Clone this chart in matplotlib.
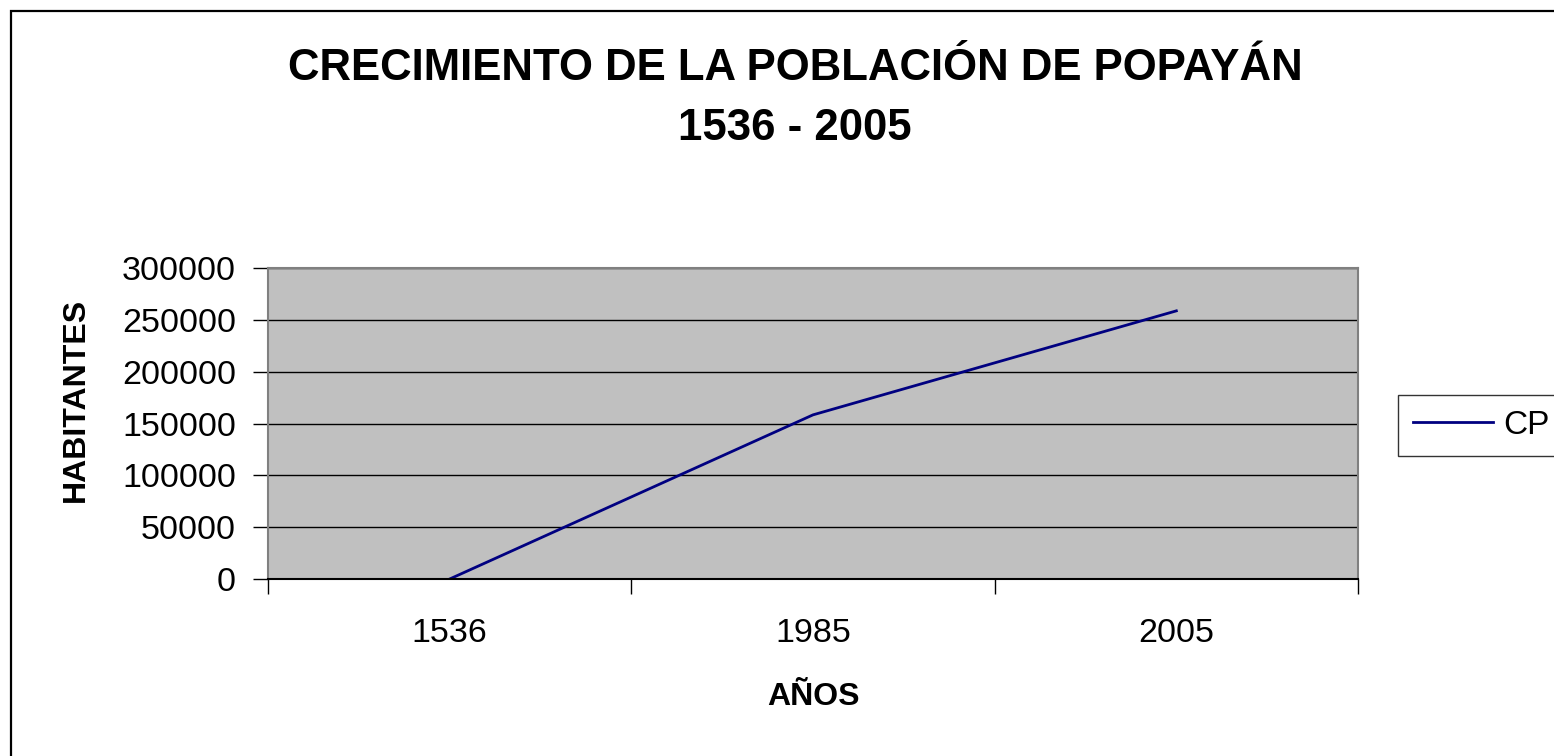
import numpy as np
import matplotlib
matplotlib.use("Agg")
import matplotlib.pyplot as plt
from matplotlib.patches import Rectangle

plt.rcParams["font.family"] = ["Liberation Sans", "DejaVu Sans"]

# ---- data ----
years = ["1536", "1985", "2005"]
habitantes = [0, 158336, 258653]
y_ticks = [0, 50000, 100000, 150000, 200000, 250000, 300000]

W, H = 1554, 756
fig = plt.figure(figsize=(W / 100, H / 100), dpi=100)

# outer chart border (right/bottom fall outside the picture)
fig.patches.append(Rectangle((11 / W, -0.1), 1.2, 1 - 11 / H + 0.1,
                             transform=fig.transFigure, fill=False,
                             edgecolor="black", linewidth=1.6))

ax = fig.add_axes([268 / W, 1 - 579 / H, 1090 / W, 311 / H])
ax.set_facecolor("#C0C0C0")

x = np.arange(len(years))
ax.plot(x, habitantes, color="#000080", linewidth=2.0, label="CP")

ax.set_xlim(-0.5, len(years) - 0.5)
ax.set_ylim(0, 300000)
ax.set_yticks(y_ticks)
ax.set_yticklabels([str(v) for v in y_ticks])
ax.yaxis.grid(True, color="black", linewidth=1.0)
ax.set_axisbelow(True)

# category ticks between categories, labels centred under them
ax.set_xticks(np.arange(-0.5, len(years), 1.0))
ax.set_xticklabels([])
ax.set_xticks(x, minor=True)
ax.set_xticklabels(years, minor=True)
ax.tick_params(axis="x", which="major", length=11, width=1, color="black", direction="out")
ax.tick_params(axis="x", which="minor", length=0, pad=28, labelsize=24.5)
ax.tick_params(axis="y", length=11, width=1, color="black", direction="out", pad=12, labelsize=24.5)

for side in ["top", "right", "left"]:
    ax.spines[side].set_color("#808080")
    ax.spines[side].set_linewidth(1.5)
ax.spines["bottom"].set_color("black")
ax.spines["bottom"].set_linewidth(1.5)

fig.text(813 / W, 1 - 697 / H, "AÑOS", ha="center", va="center",
         fontsize=23, fontweight="bold")
fig.text(76 / W, 1 - 400 / H, "HABITANTES", ha="center", va="center",
         rotation=90, fontsize=23, fontweight="bold")

fig.text(795 / W, 1 - 68 / H, "CRECIMIENTO DE LA POBLACIÓN DE POPAYÁN",
         ha="center", va="center", fontsize=31.5, fontweight="bold")
fig.text(795 / W, 1 - 128 / H, "1536 - 2005",
         ha="center", va="center", fontsize=31.5, fontweight="bold")

leg = fig.legend(loc="center left", bbox_to_anchor=(1398 / W, 1 - 425 / H),
                 fontsize=24, frameon=True, fancybox=False, handlelength=2.4,
                 handletextpad=0.3, borderpad=0.45, borderaxespad=0)
leg.get_frame().set_edgecolor("black")
leg.get_frame().set_linewidth(1.0)

fig.savefig("out.png", dpi=100)
